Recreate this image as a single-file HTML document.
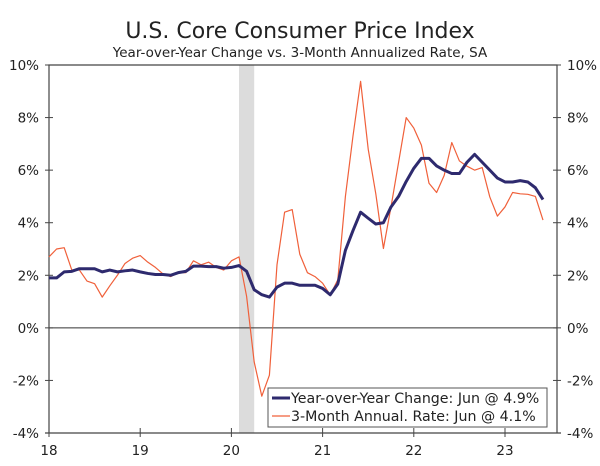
<!DOCTYPE html>
<html><head><meta charset="utf-8"><style>
body{margin:0;background:#fff;}
svg text{font-family:"DejaVu Sans","Liberation Sans",sans-serif;fill:#222;}
</style></head><body>
<svg width="600" height="461" viewBox="0 0 600 461" id="chart">
<rect width="600" height="461" fill="#fff"/>
<text x="300" y="38" text-anchor="middle" font-size="22">U.S. Core Consumer Price Index</text>
<text x="300" y="57" text-anchor="middle" font-size="13.5">Year-over-Year Change vs. 3-Month Annualized Rate, SA</text>
<g id="plot"></g>
</svg>
<script>
const yoy=[1.9,1.9,2.13,2.15,2.25,2.25,2.25,2.13,2.2,2.13,2.17,2.2,
2.13,2.07,2.03,2.03,2.0,2.1,2.15,2.35,2.35,2.33,2.33,2.27,
2.3,2.37,2.15,1.45,1.26,1.17,1.55,1.7,1.7,1.62,1.62,1.62,
1.5,1.26,1.67,2.95,3.7,4.4,4.17,3.95,4.0,4.6,5.0,5.57,
6.07,6.45,6.45,6.16,6.0,5.87,5.87,6.3,6.6,6.3,6.0,5.7,
5.55,5.55,5.6,5.55,5.33,4.88];
const ann3=[2.7,3.0,3.05,2.2,2.2,1.78,1.68,1.17,1.6,2.0,2.45,2.65,
2.75,2.5,2.3,2.05,1.95,2.1,2.1,2.55,2.4,2.5,2.3,2.2,
2.55,2.7,1.2,-1.3,-2.6,-1.8,2.4,4.4,4.5,2.8,2.1,1.95,
1.7,1.25,1.83,5.0,7.3,9.38,6.8,5.1,3.02,4.6,6.3,8.0,
7.6,6.95,5.5,5.15,5.8,7.05,6.35,6.15,6.0,6.1,4.98,4.25,
4.6,5.15,5.1,5.08,5.0,4.1];
const yTicks=[10,8,6,4,2,0,-2,-4];
const xTickLabels=["18","19","20","21","22","23"];
const recession=[25,27];

const NS="http://www.w3.org/2000/svg";
const g=document.getElementById('plot');
const L=49,R=557,T=65,B=433,yMin=-4,yMax=10,step=7.6;
const X=i=>L+i*step;
const Y=v=>B-(v-yMin)/(yMax-yMin)*(B-T);
function mk(t,a,p){const e=document.createElementNS(NS,t);for(const k in a)e.setAttribute(k,a[k]);(p||g).appendChild(e);return e;}

let band=mk('rect',{x:X(recession[0]),y:T,width:X(recession[1])-X(recession[0]),height:B-T,fill:'#dcdcdc'});



let frame=mk('path',{d:`M${L},${B}V${T}H${R}V${B}`,fill:'none',stroke:'#444','stroke-width':1.2});


let xa=mk('line',{x1:L-4,x2:R+4,y1:B,y2:B,stroke:'#444','stroke-width':1.2});


let zl=mk('line',{x1:L,x2:R,y1:Y(0),y2:Y(0),stroke:'#333','stroke-width':1});



yTicks.forEach(v=>{
  const y=Y(v);
  let t1=mk('line',{x1:L-4,x2:L+4,y1:y,y2:y,stroke:'#444'});
  
  
  let t2=mk('line',{x1:R-4,x2:R+4,y1:y,y2:y,stroke:'#444'});
  
  
  let a=mk('text',{x:L-10,y:y+5,'text-anchor':'end','font-size':13.5});a.textContent=v+'%';
  
  
  let b=mk('text',{x:R+10,y:y+5,'text-anchor':'start','font-size':13.5});b.textContent=v+'%';
  
  
});
xTickLabels.forEach((s,k)=>{
  const x=X(k*12);
  let t=mk('line',{x1:x,x2:x,y1:B-5,y2:B+4,stroke:'#444'});
  
  
  let tx=mk('text',{x:x,y:B+22,'text-anchor':'middle','font-size':13.5});tx.textContent=s;
  
  
});
function line(d,c,w,name){
  const p=mk('polyline',{points:d.map((v,i)=>X(i)+','+Y(v)).join(' '),fill:'none',stroke:c,'stroke-width':w,'stroke-linejoin':'round'});
  
  
}
line(ann3,'#f0603a',1.2,'three-month-annualized-line');
line(yoy,'#2e2a6e',3,'yoy-change-line');

const lg=mk('g',{});


mk('rect',{x:268,y:388,width:279,height:39,fill:'#fff',stroke:'#555','stroke-width':1},lg);
mk('line',{x1:272,x2:290,y1:398,y2:398,stroke:'#2e2a6e','stroke-width':3},lg);
let l1=mk('text',{x:291,y:403,'font-size':14.2},lg);l1.textContent='Year-over-Year Change: Jun @ 4.9%';


mk('line',{x1:272,x2:290,y1:416,y2:416,stroke:'#f0603a','stroke-width':1.2},lg);
let l2=mk('text',{x:291,y:421,'font-size':14.2},lg);l2.textContent='3-Month Annual. Rate: Jun @ 4.1%';


</script>
</body></html>
